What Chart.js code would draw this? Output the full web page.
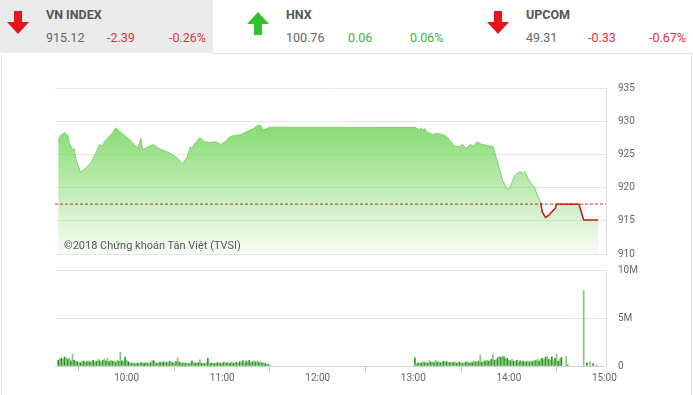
<!DOCTYPE html>
<html>
<head>
<meta charset="utf-8">
<script src="https://cdn.jsdelivr.net/npm/chart.js@4.4.1/dist/chart.umd.min.js"></script>
<style>
  body { margin: 0; width: 693px; height: 395px; overflow: hidden; background: #fff; font-family: Roboto, sans-serif; position: relative; }
  .abs { position: absolute; }
  #hdrgray { left: 0; top: 0; width: 213px; height: 53px; background: #ebebeb; }
  #hdrline { left: 213px; top: 53px; width: 480px; height: 1px; background: #e4e4e4; }
  #panel { left: 1px; top: 54px; width: 689px; height: 345px; border: 1px solid #e6e6e6; border-top: none; }
  .name { font-weight: bold; font-size: 12.5px; color: #555; top: 7px; }
  .val { font-size: 12.5px; top: 30px; }
  .grey { color: #666; }
  .red { color: #e0323c; }
  .green { color: #3fb33f; }
  #copy { left: 64px; top: 239px; font-size: 11px; color: #555; }
  canvas { position: absolute; left: 0; }
</style>
</head>
<body>
<div id="hdrgray" class="abs"></div>
<div id="hdrline" class="abs"></div>
<div id="panel" class="abs"></div>

<svg class="abs" style="left:6px;top:11px" width="24" height="24" viewBox="0 0 24 24"><polygon points="8,0 16,0 16,11 23,11 12,23 1,11 8,11" fill="#e8141c"/></svg>
<div class="abs name" style="left:46px">VN INDEX</div>
<div class="abs val grey" style="left:46px">915.12</div>
<div class="abs val red" style="left:107px">-2.39</div>
<div class="abs val red" style="left:169px">-0.26%</div>

<svg class="abs" style="left:246px;top:12px" width="24" height="24" viewBox="0 0 24 24"><polygon points="8,23 16,23 16,12 23,12 12,0 1,12 8,12" fill="#2fc42f"/></svg>
<div class="abs name" style="left:286px">HNX</div>
<div class="abs val grey" style="left:286px">100.76</div>
<div class="abs val green" style="left:348px">0.06</div>
<div class="abs val green" style="left:410px">0.06%</div>

<svg class="abs" style="left:486px;top:11px" width="24" height="24" viewBox="0 0 24 24"><polygon points="8,0 16,0 16,11 23,11 12,23 1,11 8,11" fill="#e8141c"/></svg>
<div class="abs name" style="left:526px">UPCOM</div>
<div class="abs val grey" style="left:526px">49.31</div>
<div class="abs val red" style="left:588px">-0.33</div>
<div class="abs val red" style="left:649px">-0.67%</div>

<canvas id="price" width="693" height="202" style="top:70px"></canvas>
<canvas id="volume" width="693" height="145" style="top:252px"></canvas>
<div id="copy" class="abs">©2018 Chứng khoán Tân Việt (TVSI)</div>

<script>
// VN-Index intraday
const priceTimes = ['09:17','09:18','09:21','09:23','09:24','09:26','09:27','09:28','09:31','09:35',
  '09:38','09:41','09:43','09:45','09:46','09:49','09:51','09:53','09:57','10:01',
  '10:05','10:07','10:09','10:10','10:14','10:17','10:20','10:24','10:27','10:31',
  '10:35','10:38','10:40','10:41','10:43','10:46','10:49','10:53','10:56','10:59',
  '11:02','11:05','11:09','11:12','11:15','11:19','11:22','11:24','11:26','11:28',
  '11:30','13:00','13:01','13:04','13:05','13:06','13:07','13:09','13:12','13:15',
  '13:18','13:21','13:26','13:29','13:31','13:33','13:36','13:38','13:40','13:43',
  '13:47','13:50','13:52','13:54','13:56','13:59','14:00','14:02','14:04','14:07',
  '14:09','14:10','14:12','14:14','14:16','14:18','14:20','14:21','14:23','14:25',
  '14:28','14:29','14:30','14:44','14:47','14:56'];
const priceValues = [926.8,927.7,928.3,927.9,926.7,925.7,925.9,924.4,922.3,923.1,
  923.9,925.4,926.5,926.2,926.9,927.7,928.2,929.0,928.2,927.4,
  926.4,926.0,927.4,925.7,926.2,926.5,925.9,925.5,925.2,924.6,
  923.6,924.6,926.2,925.9,926.7,927.5,926.9,926.8,926.9,926.5,
  926.9,927.7,927.9,928.0,928.4,928.8,929.3,929.4,928.7,928.9,
  929.1,929.05,929.1,928.7,929.0,928.5,928.9,928.3,928.0,928.2,
  928.0,927.7,926.2,926.2,926.5,925.9,926.5,926.2,926.9,926.5,
  926.3,926.2,924.6,922.9,921.1,919.8,919.7,920.8,921.9,922.4,
  922.1,922.4,921.4,920.6,920.1,918.8,917.7,916.3,915.5,915.8,
  916.6,916.8,917.5,917.5,915.12,915.12];
const refLevel = 917.51;

// volume in millions of shares, one bar per minute
const volAMStart = '09:17';
const volAM = [0.6,0.75,0.8,0.7,0.95,0.85,0.7,0.8,0.55,1.25,0.6,0.5,
  0.45,0.4,0.35,0.45,0.5,0.4,0.45,0.55,0.4,0.5,0.6,0.45,0.5,0.7,0.55,0.45,0.6,0.75,
  0.5,0.8,0.45,0.6,0.5,0.55,0.4,0.6,0.5,1.45,0.55,0.5,0.9,
  0.6,0.45,0.35,0.3,0.3,0.25,0.3,0.3,0.25,0.35,0.3,0.3,0.4,0.3,0.25,0.35,0.55,
  0.55,0.35,0.3,0.3,0.4,0.35,0.45,0.3,0.4,0.35,0.5,0.4,0.35,0.3,0.45,0.85,
  0.4,0.35,0.3,0.35,0.3,0.3,0.25,0.3,0.5,0.35,0.3,0.3,0.35,0.65,0.3,0.3,0.25,0.35,0.8,0.3,0.3,
  0.3,0.25,0.3,0.35,0.3,0.3,0.25,0.4,0.3,0.35,0.3,0.3,0.45,0.3,0.35,0.4,0.3,
  0.45,0.35,0.55,0.3,0.5,0.4,0.6,0.35,0.45,0.55,0.4,0.5,0.35,0.45,0.3,0.35,0.25,0.2,0.15,0.1];
const volPMStart = '13:01';
const volPM = [0.85,0.25,0.3,0.35,0.3,0.45,0.35,0.4,0.3,0.55,
  0.4,0.45,0.35,0.6,0.4,0.45,0.35,0.4,0.5,0.4,
  0.45,0.4,0.35,0.4,0.35,0.45,0.3,0.35,0.4,0.35,
  0.3,0.35,0.4,0.45,0.3,0.4,0.35,0.5,0.45,0.4,
  0.5,1.1,0.4,0.45,0.5,0.6,0.5,0.55,0.7,1.25,
  0.6,0.65,0.85,1.0,0.9,1.05,0.95,0.75,0.8,0.6,
  0.55,0.7,0.5,0.45,0.6,0.4,0.55,0.45,0.5,0.4,
  0.45,0.55,0.4,0.5,0.45,0.6,0.55,0.7,0.5,0.75,
  0.8,0.65,0.9,1.05,0.7,0.6,0.95,0.55,0.8,1.25,
  0.5,0.7,0.9];
const volLateTimes = ['14:36','14:37','14:47','14:49','14:51','14:53','14:55'];
const volLate = [1.0,0.1,7.85,0.33,0.45,0.25,0.1];

const hourTicks = ['10:00','11:00','12:00','13:00','14:00','15:00'];
const priceTicks = [910, 915, 920, 925, 930, 935];
const volTicks = [0, 5, 10];

const toMin = t => { const [h, m] = t.split(':').map(Number); return h * 60 + m; };
const fmt = v => Math.floor(v / 60) + ':' + String(v % 60).padStart(2, '0');
const xMin = 555, xMax = 901;

const tickFont = { family: 'Roboto', size: 10 };
const tickColor = '#666';
const gridColor = '#e6e6e6';
const green = '#7fd06c', red = '#cc2020';

const volPoints = [];
volAM.forEach((v, i) => volPoints.push({ x: toMin(volAMStart) + i, y: v }));
volPM.forEach((v, i) => volPoints.push({ x: toMin(volPMStart) + i, y: v }));
volLate.forEach((v, i) => volPoints.push({ x: toMin(volLateTimes[i]), y: v }));

const pricePoints = priceTimes.map((t, i) => ({ x: toMin(t), y: priceValues[i] }));
// the part of the session spent below the reference is drawn red on top
const firstBelow = priceValues.findIndex((v, i) => i > 0 && v < refLevel + 0.3 && priceValues[i - 1] < refLevel + 0.3);
const redPoints = pricePoints.slice(firstBelow - 1);

new Chart(document.getElementById('price'), {
  type: 'line',
  data: {
    datasets: [{
      data: redPoints,
      borderColor: red,
      borderWidth: 1.6,
      pointRadius: 0,
      fill: false,
      order: 0
    }, {
      data: [{ x: xMin, y: refLevel }, { x: xMax, y: refLevel }],
      borderColor: '#c8322a',
      borderWidth: 1,
      borderDash: [3, 2],
      pointRadius: 0,
      fill: false,
      order: 1
    }, {
      data: pricePoints,
      borderColor: green,
      borderWidth: 1,
      pointRadius: 0,
      fill: 'start',
      order: 2,
      backgroundColor: ctx => {
        const area = ctx.chart.chartArea;
        if (!area) return 'rgba(130,220,110,0.5)';
        const g = ctx.chart.ctx.createLinearGradient(0, area.top + 30, 0, area.bottom);
        g.addColorStop(0, 'rgba(128,218,106,1)');
        g.addColorStop(1, 'rgba(128,218,106,0.06)');
        return g;
      }
    }]
  },
  options: {
    responsive: false,
    animation: false,
    layout: { padding: { left: 55, top: 8, bottom: 9, right: 0 } },
    plugins: { legend: { display: false }, tooltip: { enabled: false } },
    scales: {
      x: { type: 'linear', min: xMin, max: xMax, display: false },
      y: {
        position: 'right', min: 910, max: 935,
        afterBuildTicks: s => { s.ticks = priceTicks.map(v => ({ value: v })); },
        afterFit: s => { s.width = 87; },
        ticks: { padding: 12, color: tickColor, font: tickFont },
        grid: { color: gridColor, drawTicks: false },
        border: { display: true, color: '#dcdcdc' }
      }
    }
  }
});

new Chart(document.getElementById('volume'), {
  type: 'bar',
  data: {
    datasets: [{
      data: volPoints,
      barThickness: 1,
      backgroundColor: c => c.dataIndex % 2 ? '#7fcc70' : '#2f8f2f'
    }]
  },
  options: {
    responsive: false,
    animation: false,
    layout: { padding: { left: 55, top: 8, bottom: 0, right: 0 } },
    plugins: { legend: { display: false }, tooltip: { enabled: false } },
    scales: {
      x: {
        type: 'linear', min: xMin, max: xMax, offset: false,
        afterBuildTicks: s => { s.ticks = hourTicks.map(t => ({ value: toMin(t) })); },
        afterFit: s => { s.height = 31; },
        ticks: { callback: v => fmt(v), padding: 0, color: tickColor, font: tickFont, maxRotation: 0, autoSkip: false },
        grid: { drawOnChartArea: false, drawTicks: true, tickLength: 6, color: '#cfcfcf' },
        border: { display: true, color: '#cfcfcf' }
      },
      y: {
        position: 'right', min: 0, max: 10,
        afterBuildTicks: s => { s.ticks = volTicks.map(v => ({ value: v })); },
        afterFit: s => { s.width = 87; },
        ticks: { callback: v => v === 0 ? '0' : v + 'M', padding: 12, color: tickColor, font: tickFont },
        grid: { color: gridColor, drawTicks: false },
        border: { display: true, color: '#dcdcdc' }
      }
    }
  }
});
</script>
</body>
</html>
